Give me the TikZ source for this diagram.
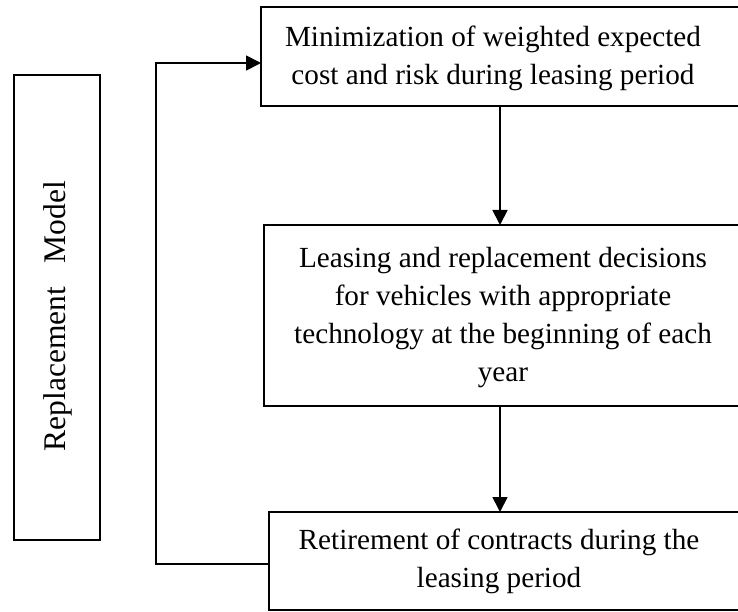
\documentclass[tikz,border=0pt]{standalone}
\usepackage{fontspec}
\setmainfont{Liberation Serif}
\usetikzlibrary{arrows.meta}
\begin{document}
\begin{tikzpicture}[x=1pt,y=-1pt,
  box/.style={draw,line width=1.8pt,anchor=north west,inner sep=0pt,outer sep=0pt},
  txt/.style={align=center,inner sep=0pt,font=\fontsize{29.2}{38}\selectfont},
  arr/.style={line width=1.8pt,-{Triangle[length=15pt,width=15pt]}}]
\useasboundingbox (0,0) rectangle (738,612);
\clip (0,0) rectangle (738,612);
% boxes
\node[box,minimum width=86pt,minimum height=465pt] (model) at (14,75) {};
\node[box,minimum width=500pt,minimum height=99pt] (topbox) at (261,7) {};
\node[box,minimum width=500pt,minimum height=181pt] (midbox) at (264,225) {};
\node[box,minimum width=500pt,minimum height=98pt] (botbox) at (269,512) {};
% texts
\node[rotate=90,inner sep=0pt,font=\fontsize{31.5}{36}\selectfont] (modeltxt) at (58,316) {Replacement\ \ \ Model};
\node[txt] (toptxt) at (493,58) {Minimization of weighted expected\\cost and risk during leasing period};
\node[txt] (midtxt) at (503,318) {Leasing and replacement decisions\\for vehicles with appropriate\\technology at the beginning of each\\year};
\node[txt] (bottxt) at (499,561.5) {Retirement of contracts during the\\leasing period};
% connectors
\coordinate (ax) at (500,0);
\coordinate (lb) at (156,564);
\coordinate (lt) at (156,63);
\draw[arr] (topbox.south -| ax) -- (midbox.north -| ax);
\draw[arr] (midbox.south -| ax) -- (botbox.north -| ax);
\draw[arr] (botbox.west |- lb) -- (lb) -- (lt) -- (topbox.west |- lt);
\end{tikzpicture}
\end{document}
